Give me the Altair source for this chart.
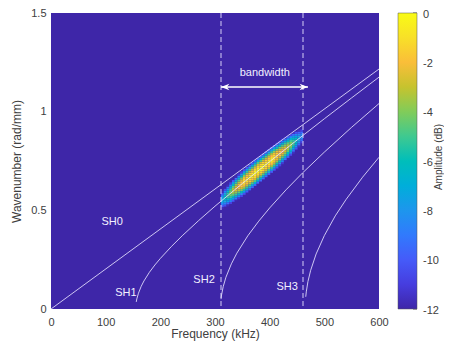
import altair as alt
import pandas as pd

# ---- dispersion curves (frequency kHz, wavenumber rad/mm)
sh0_f = [0, 600]
sh0_k = [0.0, 1.216]
sh1_f = [156, 157, 160, 165, 170, 180, 190, 200, 220, 240, 270, 300, 350, 400, 450, 500, 550, 600]
sh1_k = [0.036, 0.051, 0.080, 0.115, 0.142, 0.186, 0.223, 0.256, 0.316, 0.371, 0.448, 0.521,
         0.636, 0.747, 0.856, 0.964, 1.070, 1.175]
sh2_f = [311, 312, 315, 320, 330, 340, 360, 380, 400, 430, 460, 500, 550, 600]
sh2_k = [0.050, 0.071, 0.113, 0.161, 0.229, 0.283, 0.371, 0.445, 0.512, 0.604, 0.689, 0.795,
         0.921, 1.041]
sh3_f = [466, 467, 470, 475, 485, 500, 520, 540, 570, 600]
sh3_k = [0.062, 0.087, 0.139, 0.196, 0.279, 0.372, 0.472, 0.556, 0.668, 0.769]

# ---- amplitude blob (columns of 5 kHz along SH1)
blob_f0 = [311, 316, 321, 326, 331, 336, 341, 346, 351, 356, 361, 366, 371, 376, 381,
           386, 391, 396, 401, 406, 411, 416, 421, 426, 431, 436, 441, 446, 451, 456]
blob_k = [0.5523, 0.5639, 0.5755, 0.5871, 0.5985, 0.6099, 0.6213, 0.6326, 0.6439, 0.6552,
          0.6664, 0.6776, 0.6887, 0.6999, 0.7110, 0.7220, 0.7330, 0.7441, 0.7551, 0.7660,
          0.7770, 0.7879, 0.7988, 0.8097, 0.8205, 0.8314, 0.8422, 0.8530, 0.8638, 0.8746]
blob_peak_db = [-7.0, -5.8, -4.8, -3.9, -3.1, -2.4, -1.8, -1.3, -0.9, -0.6, -0.35, -0.2,
                -0.05, 0.0, 0.0, -0.05, -0.15, -0.3, -0.5, -0.75, -1.05, -1.4, -1.85, -2.4,
                -3.0, -3.7, -4.6, -5.6, -6.8, -8.0]
cross_dk = [-0.07, -0.06, -0.05, -0.04, -0.03, -0.02, -0.01, 0.0, 0.01, 0.02, 0.03, 0.04, 0.05, 0.06, 0.07]
cross_db = [-12.0, -9.4, -6.9, -4.7, -2.9, -1.45, -0.45, 0.0, -0.45, -1.45, -2.9, -4.7, -6.9, -9.4, -12.0]

band_edges = [311, 461]
arrow_left, arrow_right, arrow_k = 311, 470, 1.125

label_text = ["SH0", "SH1", "SH2", "SH3", "bandwidth"]
label_f = [112, 137, 280, 432, 391]
label_k = [0.441, 0.081, 0.147, 0.111, 1.196]

colorbar_ticks = [0, -2, -4, -6, -8, -10, -12]

# parula colour stops
parula_rows = [0, 5, 10, 15, 20, 25, 30, 35, 40, 45, 50, 53, 57, 63]
parula_cols = ["#3E26A8", "#463CDE", "#4758F8", "#3875FE", "#2B91EF", "#1CA9DF", "#02BAC3",
               "#31C69F", "#64CD6F", "#ABC739", "#E6BB2D", "#FEBE3C", "#F7DC2A", "#F9FB15"]
parula_dom = [-12 + 12 * r / 63 for r in parula_rows]

# ---- tables
cells = []
for f0, kc, pk in zip(blob_f0, blob_k, blob_peak_db):
    for dk, cd in zip(cross_dk, cross_db):
        db = pk + cd
        if db >= -12:
            cells.append({"f0": f0, "f1": f0 + 5, "k0": kc + dk - 0.005, "k1": kc + dk + 0.005, "db": db})
cells = pd.DataFrame(cells)

curves = []
for name, fs, ks in [("SH0", sh0_f, sh0_k), ("SH1", sh1_f, sh1_k), ("SH2", sh2_f, sh2_k), ("SH3", sh3_f, sh3_k)]:
    for i, (f, k) in enumerate(zip(fs, ks)):
        curves.append({"mode": name, "f": f, "k": k, "i": i})
curves = pd.DataFrame(curves)

edges = pd.DataFrame({"f": band_edges})
arrow = pd.DataFrame({"f": [arrow_left], "f2": [arrow_right], "k": [arrow_k]})
heads = pd.DataFrame({"f": [arrow_left, arrow_right], "k": [arrow_k, arrow_k], "side": ["L", "R"]})
labels = pd.DataFrame({"t": label_text, "f": label_f, "k": label_k})
cb_df = pd.DataFrame({"v": colorbar_ticks, "t": [str(v) for v in colorbar_ticks]})

FONT = "Liberation Sans"
GREY = "#404040"

xs = alt.Scale(domain=[0, 600], nice=False, zero=False)
ys = alt.Scale(domain=[0, 1.5], nice=False, zero=False)
xaxis = alt.Axis(values=[0, 100, 200, 300, 400, 500, 600], format="d", grid=False, ticks=False,
                 domain=False, labelPadding=7, labelFontSize=11, labelColor=GREY, labelFlush=False,
                 title="Frequency (kHz)", titleFontSize=12, titleFontWeight="normal",
                 titleColor=GREY, titlePadding=1, labelFont=FONT, titleFont=FONT)
yaxis = alt.Axis(values=[0, 0.5, 1, 1.5], format="~g", grid=False, ticks=False, domain=False,
                 labelPadding=5, labelFontSize=11, labelColor=GREY, labelFlush=False,
                 title="Wavenumber (rad/mm)", titleFontSize=12, titleFontWeight="normal",
                 titleColor=GREY, titlePadding=7, labelFont=FONT, titleFont=FONT)


def X(field):
    return alt.X(field, type="quantitative", scale=xs, axis=xaxis)


def Y(field):
    return alt.Y(field, type="quantitative", scale=ys, axis=yaxis)


heat = alt.Chart(cells).mark_rect(clip=True, strokeWidth=0).encode(
    x=X("f0"), x2="f1", y=Y("k0"), y2="k1",
    color=alt.Color("db", type="quantitative",
                    scale=alt.Scale(domain=parula_dom, range=parula_cols, clamp=True),
                    legend=alt.Legend(orient="none", legendX=347, legendY=0, direction="vertical",
                                      gradientLength=296, gradientThickness=19, title=None,
                                      values=colorbar_ticks, labelOpacity=0, labelFontSize=11,
                                      labelOffset=5, padding=0, labelOverlap=False,
                                      gradientStrokeColor="#555555", gradientStrokeWidth=0.5,
                                      labelExpr="''")),
)

LINE = "#E6E2FF"
lines = alt.Chart(curves).mark_line(clip=True, color=LINE, strokeWidth=1, opacity=0.85).encode(
    x=X("f"), y=Y("k"), detail="mode:N", order="i:Q")

rules = alt.Chart(edges).mark_rule(color=LINE, strokeWidth=1, strokeDash=[5, 3], opacity=0.9).encode(
    x=X("f"))

arrow_line = alt.Chart(arrow).mark_rule(color="white", strokeWidth=1.3).encode(
    x=X("f"), x2="f2", y=Y("k"))

left_head = alt.Chart(heads[heads.side == "L"]).mark_point(
    shape="M0,0 L2,-0.8 L1.4,0 L2,0.8 Z", size=70, filled=True, color="white", opacity=1).encode(
    x=X("f"), y=Y("k"))
right_head = alt.Chart(heads[heads.side == "R"]).mark_point(
    shape="M0,0 L-2,-0.8 L-1.4,0 L-2,0.8 Z", size=70, filled=True, color="white", opacity=1).encode(
    x=X("f"), y=Y("k"))

texts = alt.Chart(labels).mark_text(color="#F2F0FF", fontSize=11, font=FONT).encode(
    x=X("f"), y=Y("k"), text="t:N")

cb_title = alt.Chart(pd.DataFrame({"t": ["Amplitude (dB)"]})).mark_text(
    angle=270, fontSize=10, font=FONT, color=GREY, align="center", baseline="middle").encode(
    x=alt.value(388), y=alt.value(144), text="t:N")

main = alt.layer(heat, lines, rules, arrow_line, left_head, right_head, texts, cb_title)

# colour-bar tick labels and ticks on their own (hidden) scale
cbs = alt.Scale(domain=[-12, 0], nice=False, zero=False)
cb_labels = alt.Chart(cb_df).mark_text(align="left", baseline="middle", fontSize=11, font=FONT,
                                       color=GREY, dy=1.5).encode(
    x=alt.value(372), y=alt.Y("v:Q", scale=cbs, axis=None), text="t:N")
cb_ticks = alt.Chart(cb_df).mark_rule(color="#333333", strokeWidth=0.8).encode(
    x=alt.value(362), x2=alt.value(366), y=alt.Y("v:Q", scale=cbs, axis=None))
cb = alt.layer(cb_ticks, cb_labels)

chart = alt.layer(main, cb).resolve_scale(y="independent").properties(
    width=328, height=296,
    padding={"left": 43, "top": 5, "right": 65, "bottom": 33},
    autosize=alt.AutoSizeParams(type="none"),
).configure_view(fill="#3E26A8", stroke=None)

chart.save("out.html", embed_options={"renderer": "svg", "actions": False})
